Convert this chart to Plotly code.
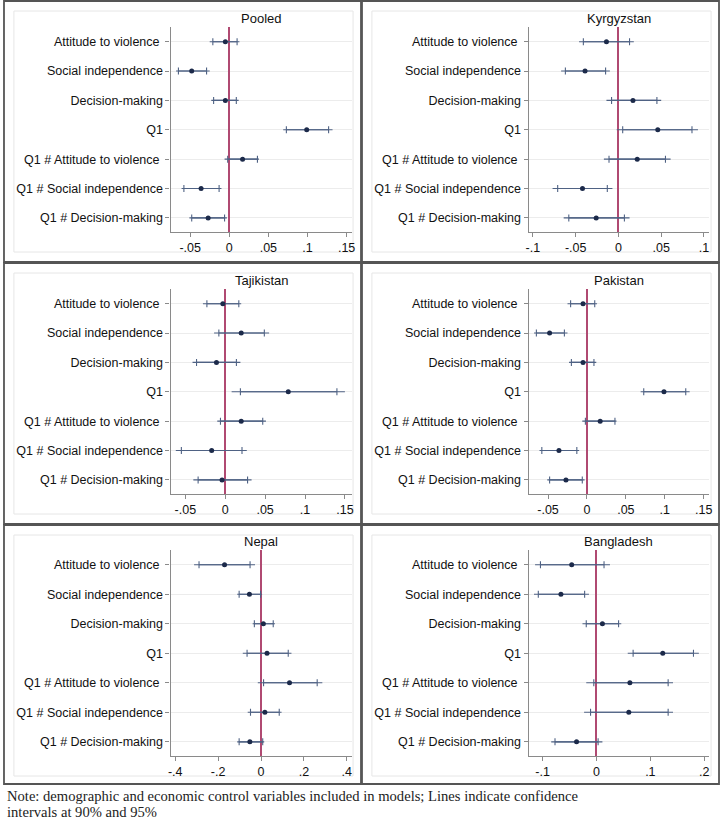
import plotly.graph_objects as go

W, H = 723, 820

categories = ["Attitude to violence\u00a0", "Social independence", "Decision-making", "Q1",
              "Q1 # Attitude to violence\u00a0", "Q1 # Social independence", "Q1 # Decision-making"]

panel_titles = ["Pooled", "Kyrgyzstan", "Tajikistan", "Pakistan", "Nepal", "Bangladesh"]

# point estimates, 90% and 95% bounds per panel
pooled_pt   = [-0.005, -0.048, -0.005, 0.099, 0.017, -0.036, -0.027]
pooled_lo90 = [-0.021, -0.065, -0.020, 0.073, -0.002, -0.058, -0.048]
pooled_hi90 = [0.010, -0.029, 0.009, 0.127, 0.036, -0.013, -0.006]
pooled_lo95 = [-0.025, -0.068, -0.023, 0.069, -0.006, -0.061, -0.051]
pooled_hi95 = [0.013, -0.025, 0.012, 0.132, 0.038, -0.010, -0.003]

kyr_pt   = [-0.014, -0.039, 0.017, 0.046, 0.022, -0.042, -0.026]
kyr_lo90 = [-0.041, -0.062, -0.008, 0.005, -0.011, -0.071, -0.058]
kyr_hi90 = [0.013, -0.015, 0.045, 0.086, 0.055, -0.013, 0.007]
kyr_lo95 = [-0.046, -0.067, -0.014, -0.002, -0.017, -0.077, -0.064]
kyr_hi95 = [0.018, -0.010, 0.050, 0.093, 0.061, -0.007, 0.013]

taj_pt   = [-0.003, 0.020, -0.011, 0.079, 0.020, -0.017, -0.004]
taj_lo90 = [-0.023, -0.008, -0.036, 0.019, -0.006, -0.055, -0.034]
taj_hi90 = [0.017, 0.049, 0.014, 0.140, 0.047, 0.021, 0.028]
taj_lo95 = [-0.028, -0.014, -0.041, 0.008, -0.010, -0.062, -0.040]
taj_hi95 = [0.020, 0.055, 0.019, 0.150, 0.051, 0.027, 0.033]

pak_pt   = [-0.005, -0.048, -0.005, 0.099, 0.017, -0.036, -0.027]
pak_lo90 = [-0.021, -0.065, -0.020, 0.073, -0.002, -0.058, -0.048]
pak_hi90 = [0.010, -0.029, 0.009, 0.127, 0.036, -0.013, -0.006]
pak_lo95 = [-0.025, -0.068, -0.023, 0.069, -0.006, -0.061, -0.051]
pak_hi95 = [0.013, -0.025, 0.012, 0.132, 0.038, -0.010, -0.003]

nep_pt   = [-0.170, -0.054, 0.011, 0.028, 0.133, 0.018, -0.052]
nep_lo90 = [-0.289, -0.102, -0.031, -0.065, 0.012, -0.049, -0.102]
nep_hi90 = [-0.051, -0.002, 0.057, 0.127, 0.262, 0.085, 0.008]
nep_lo95 = [-0.312, -0.111, -0.039, -0.085, -0.015, -0.062, -0.111]
nep_hi95 = [-0.028, 0.005, 0.065, 0.142, 0.286, 0.096, 0.015]

ban_pt   = [-0.046, -0.066, 0.011, 0.123, 0.062, 0.060, -0.037]
ban_lo90 = [-0.104, -0.108, -0.019, 0.068, -0.005, -0.011, -0.077]
ban_hi90 = [0.014, -0.022, 0.041, 0.180, 0.133, 0.133, 0.003]
ban_lo95 = [-0.114, -0.116, -0.026, 0.058, -0.019, -0.023, -0.084]
ban_hi95 = [0.025, -0.014, 0.046, 0.190, 0.142, 0.142, 0.011]

x_ranges = [[-0.075, 0.157], [-0.105, 0.106], [-0.0685, 0.159],
            [-0.075, 0.157], [-0.4216, 0.4247], [-0.126, 0.209]]
tick_vals = [[-0.05, 0, 0.05, 0.1, 0.15], [-0.1, -0.05, 0, 0.05, 0.1],
             [-0.05, 0, 0.05, 0.1, 0.15], [-0.05, 0, 0.05, 0.1, 0.15],
             [-0.4, -0.2, 0, 0.2, 0.4], [-0.1, 0, 0.1, 0.2]]
tick_text = [["-.05", "0", ".05", ".1", ".15"], ["-.1", "-.05", "0", ".05", ".1"],
             ["-.05", "0", ".05", ".1", ".15"], ["-.05", "0", ".05", ".1", ".15"],
             ["-.4", "-.2", "0", ".2", ".4"], ["-.1", "0", ".1", ".2"]]

note_lines = ["Note: demographic and economic control variables included in models; Lines indicate confidence",
              "intervals at 90% and 95%"]

panels = [
    (pooled_pt, pooled_lo90, pooled_hi90, pooled_lo95, pooled_hi95),
    (kyr_pt, kyr_lo90, kyr_hi90, kyr_lo95, kyr_hi95),
    (taj_pt, taj_lo90, taj_hi90, taj_lo95, taj_hi95),
    (pak_pt, pak_lo90, pak_hi90, pak_lo95, pak_hi95),
    (nep_pt, nep_lo90, nep_hi90, nep_lo95, nep_hi95),
    (ban_pt, ban_lo90, ban_hi90, ban_lo95, ban_hi95),
]

# layout geometry (pixels)
box_x = [(1, 361), (362, 722)]
box_y = [(1, 262), (263, 524), (525, 784)]
plot_x = [(169, 352), (530, 712)]
plot_y = [(27, 232), (289, 494), (550, 756)]
title_y = [18, 280, 541]
note_y = [796, 812]

LINE_COL = "#4f6284"
DOT_COL = "#1c2a4a"
ZERO_COL = "#b04a72"
AXIS_COL = "#8a8a8a"
FONT = "Liberation Sans, Arial, sans-serif"

fig = go.Figure()
layout = dict(width=W, height=H, margin=dict(l=0, r=0, t=0, b=0),
              paper_bgcolor="white", plot_bgcolor="white", showlegend=False)
shapes = []
annotations = []
ypos = list(range(1, len(categories) + 1))

for i, (pt, lo90, hi90, lo95, hi95) in enumerate(panels):
    r, c = divmod(i, 2)
    sfx = "" if i == 0 else str(i + 1)
    xa, ya = "x" + sfx, "y" + sfx
    # 95% CI (plain line)
    fig.add_trace(go.Scatter(
        x=pt, y=ypos, mode="markers", xaxis=xa, yaxis=ya,
        marker=dict(size=1, color="rgba(0,0,0,0)"),
        error_x=dict(type="data", symmetric=False,
                     array=[h - p for h, p in zip(hi95, pt)],
                     arrayminus=[p - l for p, l in zip(pt, lo95)],
                     width=0, thickness=1.1, color=LINE_COL),
        hoverinfo="skip"))
    # 90% CI with caps
    fig.add_trace(go.Scatter(
        x=pt, y=ypos, mode="markers", xaxis=xa, yaxis=ya,
        marker=dict(size=5, color=DOT_COL),
        error_x=dict(type="data", symmetric=False,
                     array=[h - p for h, p in zip(hi90, pt)],
                     arrayminus=[p - l for p, l in zip(pt, lo90)],
                     width=3.5, thickness=1.1, color=LINE_COL)))
    px0, px1 = plot_x[c]
    py0, py1 = plot_y[r]
    layout["xaxis" + sfx] = dict(
        domain=[px0 / W, px1 / W], anchor=ya, range=x_ranges[i],
        tickvals=tick_vals[i], ticktext=tick_text[i], showgrid=False,
        zeroline=True, zerolinecolor=ZERO_COL, zerolinewidth=1.8,
        showline=True, linecolor=AXIS_COL, linewidth=1.2,
        ticks="outside", ticklen=4, tickcolor=AXIS_COL, tickwidth=1,
        tickfont=dict(family=FONT, size=12.5, color="#111"), fixedrange=True)
    layout["yaxis" + sfx] = dict(
        domain=[1 - py1 / H, 1 - py0 / H], anchor=xa, range=[7.48, 0.5],
        tickvals=ypos, ticktext=categories, showgrid=True, gridcolor="#ececec",
        gridwidth=1, zeroline=False, showline=True, linecolor=AXIS_COL, linewidth=1.2,
        ticks="outside", ticklen=4, tickcolor=AXIS_COL, tickwidth=1,
        tickfont=dict(family=FONT, size=12.5, color="#111"), fixedrange=True)
    bx0, bx1 = box_x[c]
    by0, by1 = box_y[r]
    # outer panel border
    shapes.append(dict(type="rect", xref="paper", yref="paper",
                       x0=bx0 / W, x1=bx1 / W, y0=1 - by1 / H, y1=1 - by0 / H,
                       line=dict(color="#555555", width=1.8), layer="below"))
    # inner light region border
    shapes.append(dict(type="rect", xref="paper", yref="paper",
                       x0=(bx0 + 10) / W, x1=(bx0 + 352) / W,
                       y0=1 - (by0 + 251) / H, y1=1 - (by0 + 10) / H,
                       line=dict(color="#e6e6e6", width=1), layer="below"))
    annotations.append(dict(text=panel_titles[i], xref="paper", yref="paper",
                            x=(px0 + px1) / 2 / W, y=1 - title_y[r] / H,
                            xanchor="center", yanchor="middle", showarrow=False,
                            font=dict(family=FONT, size=13, color="#111")))

for line, ny in zip(note_lines, note_y):
    annotations.append(dict(text=line, xref="paper", yref="paper", x=2 / W, y=1 - ny / H,
                            xanchor="left", yanchor="middle", align="left", showarrow=False,
                            font=dict(family="Liberation Serif, Times New Roman, serif", size=14.6,
                                      color="#222")))
layout["shapes"] = shapes
layout["annotations"] = annotations
fig.update_layout(**layout)
fig.write_html("out.html", config={"displayModeBar": False},
               post_script="document.body.style.margin='0';document.body.style.overflow='hidden';")
